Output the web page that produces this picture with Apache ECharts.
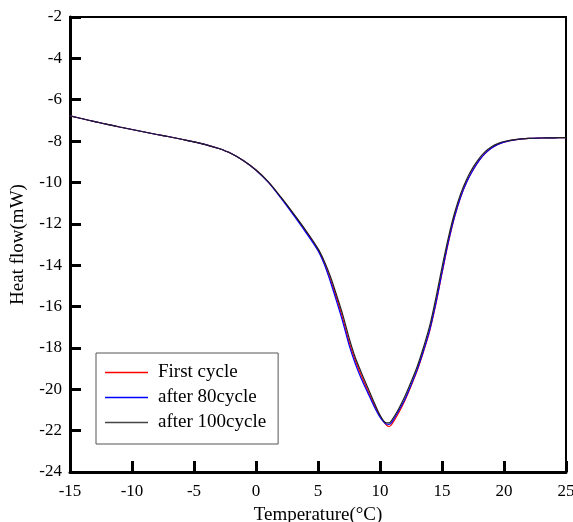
<!DOCTYPE html>
<html>
<head>
<meta charset="utf-8">
<script src="https://cdn.jsdelivr.net/npm/echarts@6/dist/echarts.min.js"></script>
<style>
  html, body { margin: 0; padding: 0; background: #fff; }
  #chart { width: 573px; height: 522px; }
</style>
</head>
<body>
<div id="chart"></div>
<script>
// 温度 (°C)
var temperature = [-15, -14, -13, -12, -11, -10, -9, -8, -7, -6, -5, -4, -3, -2, -1, 0, 1, 2, 3, 4, 5, 5.5, 6, 6.5, 7, 7.5, 8, 8.5, 9, 9.5, 10, 10.5, 10.75, 11, 11.5, 12, 12.5, 13, 13.5, 14, 14.5, 15, 15.5, 16, 16.5, 17, 17.5, 18, 18.5, 19, 19.5, 20, 21, 22, 23, 24, 25]
// 热流 (mW)
var firstCycle = [-6.78, -6.92, -7.06, -7.19, -7.32, -7.44, -7.56, -7.68, -7.79, -7.91, -8.04, -8.18, -8.36, -8.6, -8.95, -9.4, -9.98, -10.72, -11.52, -12.35, -13.25, -13.9, -14.7, -15.6, -16.6, -17.7, -18.6, -19.35, -20.05, -20.7, -21.3, -21.72, -21.8, -21.65, -21.15, -20.55, -19.85, -19.1, -18.2, -17.2, -15.9, -14.4, -12.95, -11.7, -10.72, -9.97, -9.4, -8.93, -8.58, -8.33, -8.16, -8.05, -7.93, -7.87, -7.85, -7.84, -7.83]
var after80 = [-6.78, -6.92, -7.06, -7.19, -7.32, -7.44, -7.56, -7.68, -7.79, -7.91, -8.04, -8.18, -8.36, -8.6, -8.95, -9.41, -10.0, -10.75, -11.56, -12.4, -13.3, -13.95, -14.8, -15.75, -16.75, -17.85, -18.75, -19.5, -20.15, -20.8, -21.35, -21.68, -21.7, -21.55, -21.05, -20.5, -19.8, -19.05, -18.15, -17.15, -15.85, -14.35, -12.9, -11.68, -10.7, -9.97, -9.4, -8.93, -8.58, -8.33, -8.16, -8.05, -7.93, -7.87, -7.85, -7.84, -7.83]
var after100 = [-6.78, -6.92, -7.06, -7.19, -7.32, -7.44, -7.56, -7.68, -7.79, -7.91, -8.04, -8.18, -8.36, -8.6, -8.95, -9.4, -9.97, -10.7, -11.48, -12.3, -13.2, -13.8, -14.55, -15.45, -16.4, -17.5, -18.45, -19.2, -19.9, -20.6, -21.25, -21.62, -21.62, -21.45, -20.95, -20.35, -19.65, -18.9, -17.98, -16.95, -15.6, -14.1, -12.7, -11.5, -10.55, -9.83, -9.27, -8.83, -8.5, -8.27, -8.12, -8.02, -7.92, -7.87, -7.85, -7.84, -7.83]
var seriesNames = ['First cycle', 'after 80cycle', 'after 100cycle']

function pairs(ys) {
  return temperature.map(function (t, i) { return [t, ys[i]] })
}

var font = "'Liberation Serif', 'Times New Roman', serif"
var myEcharts = echarts.init(document.getElementById('chart'))

var option = {
  backgroundColor: '#fff',
  animation: false,
  grid: {
    left: 70, top: 17, right: 7, bottom: 50,
    outerBoundsMode: 'none',
    containLabel: false,
    show: true,
    borderColor: '#000',
    borderWidth: 2
  },
  legend: {
    orient: 'vertical',
    left: 96,
    top: 353,
    data: seriesNames,
    icon: 'rect',
    itemWidth: 43,
    itemHeight: 1.5,
    itemGap: 6,
    padding: [10, 12, 12, 9],
    borderColor: '#555',
    borderWidth: 1,
    textStyle: { fontFamily: font, fontSize: 19, color: '#000', padding: [0, 0, 0, 5] }
  },
  xAxis: {
    type: 'value',
    min: -15, max: 25, interval: 5,
    name: 'Temperature(°C)',
    nameLocation: 'middle',
    nameGap: 34,
    nameTextStyle: { fontFamily: font, fontSize: 19, color: '#000' },
    axisLine: { show: true, onZero: false, lineStyle: { color: '#000', width: 3 } },
    axisTick: { show: true, inside: true, length: 11, lineStyle: { color: '#000', width: 3 } },
    axisLabel: { fontFamily: font, fontSize: 17, color: '#000', margin: 11 },
    splitLine: { show: false }
  },
  yAxis: {
    type: 'value',
    min: -24, max: -2, interval: 2,
    name: 'Heat flow(mW)',
    nameLocation: 'middle',
    nameGap: 42,
    nameTextStyle: { fontFamily: font, fontSize: 19, color: '#000' },
    axisLine: { show: true, onZero: false, lineStyle: { color: '#000', width: 3 } },
    axisTick: { show: true, inside: true, length: 11, lineStyle: { color: '#000', width: 3 } },
    axisLabel: { fontFamily: font, fontSize: 17, color: '#000', margin: 8 },
    splitLine: { show: false }
  },
  series: [
    {
      name: seriesNames[0], type: 'line', symbol: 'none', smooth: 0.3,
      lineStyle: { color: '#ff0000', width: 1.2 }, itemStyle: { color: '#ff0000' },
      data: pairs(firstCycle), z: 2
    },
    {
      name: seriesNames[1], type: 'line', symbol: 'none', smooth: 0.3,
      lineStyle: { color: '#0000ff', width: 1.2 }, itemStyle: { color: '#0000ff' },
      data: pairs(after80), z: 3
    },
    {
      name: seriesNames[2], type: 'line', symbol: 'none', smooth: 0.3,
      lineStyle: { color: '#222', width: 1.2 }, itemStyle: { color: '#444' },
      data: pairs(after100), z: 4
    }
  ]
}
myEcharts.setOption(option)
</script>
</body>
</html>
